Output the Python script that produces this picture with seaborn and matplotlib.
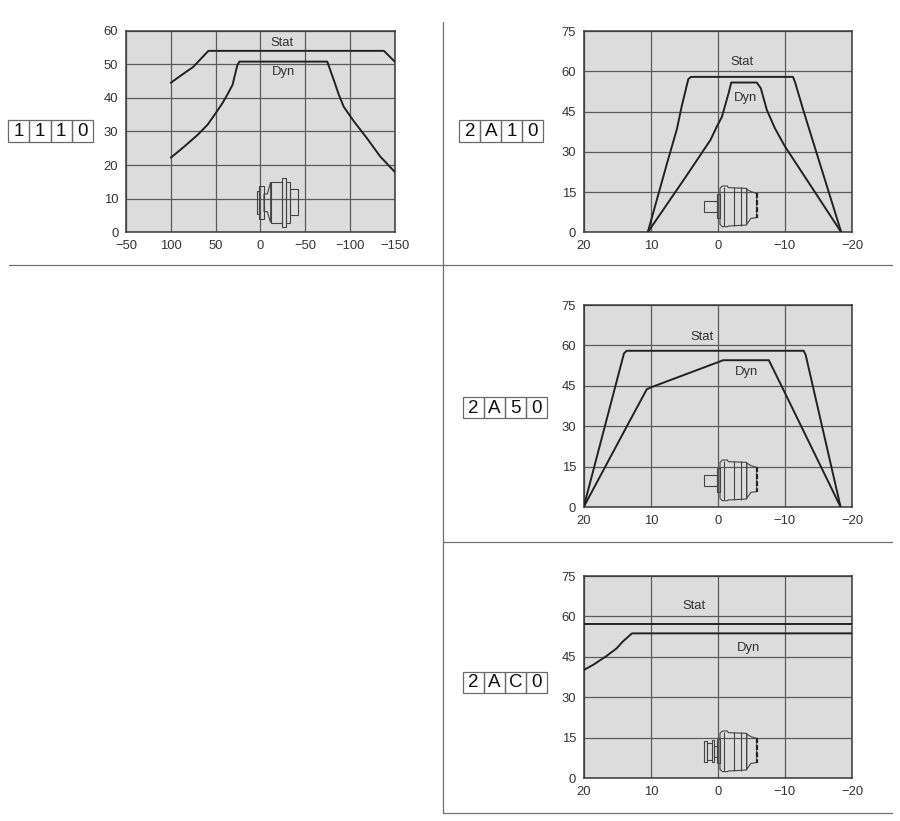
import pandas as pd
import seaborn as sns
import matplotlib.pyplot as plt
from matplotlib.patches import Rectangle, Polygon
from matplotlib.lines import Line2D
from matplotlib.transforms import Affine2D

# --- 1110 ---
x_1110_stat = [100, 88, 75, 58, 56, -138, -150]
y_1110_stat = [44.5, 46.8, 49.2, 54, 54, 54, 50.8]
x_1110_dyn = [100, 85, 70, 59, 50, 42.4, 37, 31, 27.5, 25.6, 23.4, -74.7, -82, -87.7, -93,
              -104.5, -119, -134, -150]
y_1110_dyn = [22.2, 25.5, 29, 32, 35.4, 38.4, 40.9, 43.9, 47.8, 49.8, 50.8, 50.8, 45.3, 40.9, 37.4,
              33, 28, 22.5, 18]

# --- 2A10 ---
x_2a10_stat = [10.45, 7.6, 6.1, 5.4, 4.4, 4, -11.2, -11.5, -12.8, -18.4]
y_2a10_stat = [0, 25.5, 38.5, 46.8, 57.1, 57.9, 57.9, 56, 45, 0]
x_2a10_dyn = [10.45, 5.1, 1.1, 0.15, -0.6, -1.6, -2, -5.8, -6.4, -7.3, -8.5, -10, -18.4]
y_2a10_dyn = [0, 19.5, 34.4, 39.4, 43, 51.8, 55.8, 55.8, 53.7, 45.6, 38.8, 32, 0]

# --- 2A50 ---
x_2a50_stat = [20, 14, 13.6, -12.8, -13.1, -18.3]
y_2a50_stat = [0, 57, 58, 58, 56.4, 0]
x_2a50_dyn = [20, 13.6, 10.6, 10.1, -0.8, -7.6, -9.8, -18.3]
y_2a50_dyn = [0, 29.8, 43.7, 44.3, 54.5, 54.5, 43.4, 0]

# --- 2AC0 ---
x_2ac0_stat = [20, -20]
y_2ac0_stat = [57.3, 57.3]
x_2ac0_dyn = [20, 18.6, 16.6, 15.1, 14.2, 12.8, -20]
y_2ac0_dyn = [40.1, 42, 45.3, 48.1, 50.6, 53.7, 53.7]

# Achsen
xticks_wide = [150, 100, 50, 0, -50, -100, -150]
xlabels_wide = ["−50", "100", "50", "0", "−50", "−100", "−150"]
yticks_wide = [0, 10, 20, 30, 40, 50, 60]
xticks_narrow = [20, 10, 0, -10, -20]
xlabels_narrow = ["20", "10", "0", "−10", "−20"]
yticks_narrow = [0, 15, 30, 45, 60, 75]

W, H = 900, 821
BG = "#dcdcdc"
GRID = "#5c5c5c"
LINE = "#222222"
TXT = "#333333"

sns.set_style("white")
plt.rcParams["font.family"] = ["Liberation Sans", "DejaVu Sans"]

fig = plt.figure(figsize=(W / 100, H / 100), dpi=100, facecolor="white")
# Pixel-Koordinaten wie im Bild (y nach unten)
px = Affine2D().scale(1, -1).translate(0, H)


def make_panel(box, xs, ys, xticks, xlabels, yticks, stat_pos, dyn_pos):
    left, top, right, bottom = box
    ax = fig.add_axes([left / W, 1 - bottom / H, (right - left) / W, (bottom - top) / H])
    df = pd.concat([
        pd.DataFrame({"x": xs[0], "y": ys[0], "Kurve": "Stat"}),
        pd.DataFrame({"x": xs[1], "y": ys[1], "Kurve": "Dyn"}),
    ])
    sns.lineplot(data=df, x="x", y="y", hue="Kurve", palette=[LINE, LINE], estimator=None,
                 sort=False, legend=False, linewidth=1.4, ax=ax, zorder=4)
    ax.set_facecolor(BG)
    ax.set_xlim(xticks[0], xticks[-1])
    ax.set_ylim(yticks[0], yticks[-1])
    ax.set_xticks(xticks, xlabels)
    ax.set_yticks(yticks)
    ax.set_xlabel("")
    ax.set_ylabel("")
    ax.grid(True, color=GRID, linewidth=0.9)
    ax.set_axisbelow(True)
    ax.tick_params(length=0, pad=5.5, labelsize=9.4, labelcolor=TXT)
    for s in ax.spines.values():
        s.set_color("#3a3a3a")
        s.set_linewidth(1.1)
        s.set_visible(True)
    ax.text(stat_pos[0], stat_pos[1], "Stat", ha="center", va="center", fontsize=9.4, color=TXT, zorder=5)
    ax.text(dyn_pos[0], dyn_pos[1], "Dyn", ha="center", va="center", fontsize=9.4, color=TXT, zorder=5)
    return ax


def code_box(x0, x1, y0, y1, chars):
    n = len(chars)
    cw = (x1 - x0) / n
    for i, c in enumerate(chars):
        fig.add_artist(Rectangle((x0 + i * cw, y0), cw, y1 - y0, transform=px, fill=False,
                                 edgecolor="#6a6a6a", linewidth=0.9))
        fig.text(x0 + (i + 0.5) * cw, y0 + (y1 - y0) / 2 + 0.5, c, transform=px, ha="center",
                 va="center", fontsize=13.5, color="#111111")


def icon_poly(x0, y0, pts, lw=0.8):
    # pts in 3x-Zoom-Einheiten
    pp = [(x0 + a / 3, y0 + b / 3) for a, b in pts]
    fig.add_artist(Polygon(pp, closed=True, fill=False, edgecolor="#444444", linewidth=lw,
                           transform=px, zorder=6))


def icon_rect(x0, y0, a0, a1, b0, b1, lw=0.8):
    icon_poly(x0, y0, [(a0, b0), (a1, b0), (a1, b1), (a0, b1)], lw)


def motor_small(x0, y0):
    icon_rect(x0, y0, 50, 58, 62, 132)
    icon_rect(x0, y0, 58, 72, 48, 148)
    icon_poly(x0, y0, [(72, 72), (82, 72), (92, 36), (92, 158), (82, 125), (72, 125)])
    icon_rect(x0, y0, 92, 126, 36, 158)
    icon_rect(x0, y0, 126, 138, 24, 172)
    icon_rect(x0, y0, 138, 150, 36, 158)
    icon_rect(x0, y0, 150, 174, 58, 135)


def motor_body(x0, y0):
    icon_rect(x0, y0, 65, 75, 58, 128)
    icon_poly(x0, y0, [(75, 40), (82, 33), (97, 33), (100, 38), (155, 40), (155, 150),
                       (100, 153), (97, 155), (82, 155), (75, 148)])
    for a in [88, 118, 138]:
        icon_poly(x0, y0, [(a, 36), (a, 152)])
    icon_poly(x0, y0, [(155, 42), (168, 50), (185, 55), (185, 128), (168, 130), (155, 148)])
    l = Line2D([x0 + 187 / 3] * 2, [y0 + 55 / 3, y0 + 128 / 3], transform=px, color="#222222",
               linewidth=1.6, linestyle=(0, (2.2, 1)), zorder=6)
    fig.add_artist(l)


make_panel((126, 30.7, 394.7, 232.3), (x_1110_stat, x_1110_dyn), (y_1110_stat, y_1110_dyn),
           xticks_wide, xlabels_wide, yticks_wide, (-24.5, 56.3), (-25.6, 47.6))
make_panel((583.7, 31, 852, 232.3), (x_2a10_stat, x_2a10_dyn), (y_2a10_stat, y_2a10_dyn),
           xticks_narrow, xlabels_narrow, yticks_narrow, (-3.6, 63.6), (-4.1, 49.9))
make_panel((583.7, 305, 852, 507), (x_2a50_stat, x_2a50_dyn), (y_2a50_stat, y_2a50_dyn),
           xticks_narrow, xlabels_narrow, yticks_narrow, (2.3, 63), (-4.2, 50.2))
make_panel((583.7, 576, 852, 778), (x_2ac0_stat, x_2ac0_dyn), (y_2ac0_stat, y_2ac0_dyn),
           xticks_narrow, xlabels_narrow, yticks_narrow, (3.5, 64), (-4.5, 48.3))

code_box(8.3, 92.7, 120, 141.7, "1110")
code_box(459.3, 543.3, 120, 141.7, "2A10")
code_box(462.7, 547.3, 397.3, 418.3, "2A50")
code_box(462.7, 547.3, 671.7, 692.7, "2AC0")

motor_small(240, 170)
motor_body(695, 175)
icon_rect(695, 175, 28, 65, 78, 110)
motor_body(695, 449)
icon_rect(695, 449, 28, 65, 78, 110)
motor_body(695, 720)
icon_rect(695, 720, 28, 36, 62, 125)
icon_rect(695, 720, 36, 50, 68, 120)
icon_rect(695, 720, 50, 58, 60, 125)
icon_rect(695, 720, 58, 65, 78, 110)

# Trennlinien
for (xa, xb, ya, yb) in [(443, 443, 22, 813), (9, 892, 265, 265), (443, 892, 542, 542), (443, 892, 813, 813)]:
    fig.add_artist(Line2D([xa, xb], [ya, yb], transform=px, color="#707070", linewidth=0.9))

fig.savefig("out.png", dpi=100)
